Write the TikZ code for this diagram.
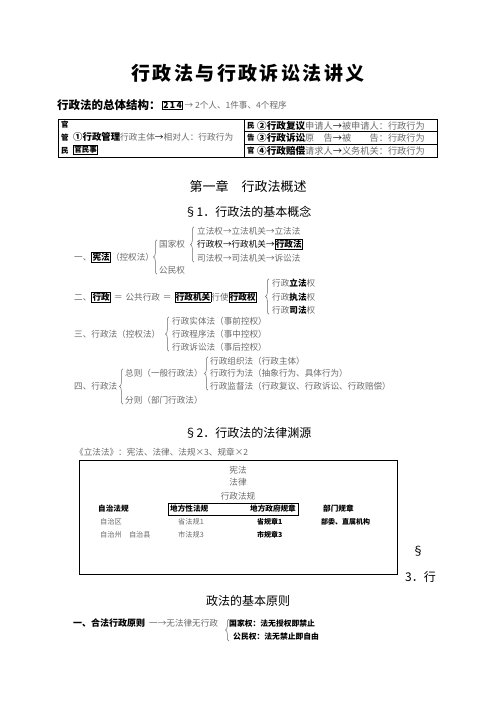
\documentclass[tikz,border=0pt]{standalone}
\usepackage{fontspec}
\setmainfont{Noto Sans CJK SC}
\usepackage{tikz}
\usetikzlibrary{decorations.pathreplacing,positioning,fit}
\definecolor{gry}{gray}{0.42}
\newcommand{\kuang}[1]{{\color{black}\setlength{\fboxsep}{0.6pt}\setlength{\fboxrule}{0.6pt}\fbox{\bfseries #1}}}
\newcommand{\zw}{\fontsize{8.6}{10}\selectfont}
\newcommand{\xzw}{\fontsize{7.6}{9}\selectfont}
\newcommand{\bt}{\fontsize{12}{13}\selectfont}

\begin{document}
\begin{tikzpicture}[x=1pt,y=-1pt,
  txt/.style={anchor=west, inner sep=0pt, text=gry, font=\zw},
  bld/.style={anchor=west, inner sep=0pt, text=black, font=\bfseries\zw},
  mid/.style={inner sep=0pt, text=gry, font=\zw},
  brc/.style={decorate, decoration={brace, amplitude=3.5pt}, draw=gry, line width=0.5pt},
  biao/.style={inner sep=0pt, text=black, font=\bt},
  biaoge/.style={anchor=west, inner sep=0pt, text=gry, font=\fontsize{9.2}{10}\selectfont},
  lie/.style={anchor=west, inner sep=0pt, text=black, font=\bfseries\fontsize{7.5}{8}\selectfont}]
\useasboundingbox (0,0) rectangle (496,702);
\fill[white] (0,0) rectangle (496,702);

% title and overall structure
\node[biao, font=\bfseries\fontsize{19}{20}\selectfont] (biaoti) at (248,73) {\addfontfeature{LetterSpace=13}行政法与行政诉讼法讲义};
\node[bld, font=\bfseries\fontsize{11.5}{12}\selectfont] (jiegou) at (57,105) {行政法的总体结构：};
\node[txt, right=1pt of jiegou] (chengxu) {\kuang{2\,1\,4}\,→ 2个人、1件事、4个程序};

% table
\draw[line width=0.8pt] (58,119) rectangle (437,157);
\draw[line width=0.6pt] (244,119) -- (244,157);
\draw[line width=0.6pt] (244,131.7) -- (437,131.7);
\draw[line width=0.6pt] (244,144.3) -- (437,144.3);
\node[lie] (lg1) at (61,125) {官};
\node[lie] (lg2) at (61,138) {管};
\node[lie] (lg3) at (61,151) {民};
\node[lie] (rg1) at (247,125.5) {民};
\node[lie] (rg2) at (247,138) {告};
\node[lie] (rg3) at (247,150.5) {官};
\node[biaoge, font=\fontsize{8.7}{10}\selectfont] (guanli) at (73,137) {{\color{black}\bfseries\fontsize{9.4}{10}\selectfont ①行政管理}行政主体{\color{black}→}相对人：行政行为};
\node[txt, font=\fontsize{7.5}{9}\selectfont] (guanmin) at (73,150) {\kuang{官民事}};
\node[biaoge] (fuyi) at (257,125.5) {{\color{black}\bfseries\fontsize{9.6}{10}\selectfont ②行政复议}申请人{\color{black}→}被申请人：行政行为};
\node[biaoge] (susong) at (257,138) {{\color{black}\bfseries\fontsize{9.6}{10}\selectfont ③行政诉讼}原　告{\color{black}→}被　　告：行政行为};
\node[biaoge] (peichang) at (257,150.5) {{\color{black}\bfseries\fontsize{9.6}{10}\selectfont ④行政赔偿}请求人{\color{black}→}义务机关：行政行为};

% chapter one
\node[biao, font=\fontsize{13}{14}\selectfont] (zhang1) at (248,186) {第一章　行政法概述};
\node[biao] (jie1) at (248,212) {§1．行政法的基本概念};

\node[txt] (xianfa) at (74,257) {一、\kuang{宪法}（控权法）};
\node[txt] (guojia) at (159,244) {国家权};
\node[txt] (gongmin) at (159,270) {公民权};
\draw[brc] ([xshift=-2pt]gongmin.south west) -- ([xshift=-2pt]guojia.north west);
\node[txt] (lifa) at (197,231) {立法权→立法机关→立法法};
\node[txt] (xingzheng) at (197,244) {{\color{black}行政权→行政机关→}\kuang{行政法}};
\node[txt] (sifa) at (197,258) {司法权→司法机关→诉讼法};
\draw[brc] ([xshift=-3pt]sifa.south west) -- ([xshift=-3pt]lifa.north west);

\node[txt] (xz) at (74,297) {二、\kuang{行政}\hspace{3pt}＝\hspace{3pt}公共行政\hspace{3pt}＝\hspace{3pt}\kuang{行政机关}行使\kuang{行政权}};
\node[txt] (xzlf) at (272,283) {行政{\color{black}\bfseries 立法}权};
\node[txt] (xzzf) at (272,297) {行政{\color{black}\bfseries 执法}权};
\node[txt] (xzsf) at (272,310) {行政{\color{black}\bfseries 司法}权};
\draw[brc] ([xshift=-3pt]xzsf.south west) -- ([xshift=-3pt]xzlf.north west);

\node[txt] (kongquan) at (74,334) {三、行政法（控权法）};
\node[txt] (shiti) at (172,321) {行政实体法（事前控权）};
\node[txt] (chengx) at (172,334) {行政程序法（事中控权）};
\node[txt] (susongfa) at (172,347) {行政诉讼法（事后控权）};
\draw[brc] ([xshift=-3pt]susongfa.south west) -- ([xshift=-3pt]shiti.north west);

\node[txt] (xzf) at (74,386) {四、行政法};
\node[txt] (zongze) at (125,373) {总则（一般行政法）};
\node[txt] (fenze) at (125,400) {分则（部门行政法）};
\draw[brc] ([xshift=-2pt]fenze.south west) -- ([xshift=-2pt]zongze.north west);
\node[txt] (zuzhi) at (210,361) {行政组织法（行政主体）};
\node[txt] (xingwei) at (210,373) {行政行为法（抽象行为、具体行为）};
\node[txt] (jiandu) at (210,386) {行政监督法（行政复议、行政诉讼、行政赔偿）};
\draw[brc] ([xshift=-2pt]jiandu.south west) -- ([xshift=-2pt]zuzhi.north west);

% sources
\node[biao] (jie2) at (248,433) {§2．行政法的法律渊源};
\node[txt] (lifafa) at (75,452) {《立法法》：宪法、法律、法规×3、规章×2};
\draw[line width=0.8pt] (79,460) rectangle (397,574);
\node[mid] (xf) at (238,470) {宪法};
\node[mid] (fl) at (238,482.5) {法律};
\node[mid] (xzfg) at (238,496) {行政法规};
\node[bld, font=\bfseries\xzw] (zzfg) at (98,509) {自治法规};
\node[bld, font=\bfseries\xzw] (dfx) at (170,509) {地方性法规};
\node[bld, font=\bfseries\xzw] (dfz) at (250,509) {地方政府规章};
\node[bld, font=\bfseries\xzw] (bmgz) at (323,509) {部门规章};
\node[draw, line width=0.7pt, inner xsep=2pt, inner ysep=2pt, fit=(dfx)(dfz)] (dfk) {};
\node[txt, font=\fontsize{7.2}{9}\selectfont] (zzq) at (100,522) {自治区};
\node[txt, font=\fontsize{7.2}{9}\selectfont] (sfg) at (178,522) {省法规1};
\node[bld, font=\bfseries\fontsize{7}{9}\selectfont] (sgz) at (257,522) {省规章1};
\node[bld, font=\bfseries\fontsize{7}{9}\selectfont] (bw) at (321,522) {部委、直属机构};
\node[txt, font=\fontsize{7.2}{9}\selectfont] (zzz) at (100,535) {自治州　自治县};
\node[txt, font=\fontsize{7.2}{9}\selectfont] (shfg) at (178,535) {市法规3};
\node[bld, font=\bfseries\fontsize{7}{9}\selectfont] (shgz) at (257,535) {市规章3};

% principles
\node[biao] (jie3a) at (418,551) {§};
\node[biao, anchor=west] (jie3b) at (405,577) {3．行};
\node[biao] (jie3c) at (248,601) {政法的基本原则};
\node[bld, font=\bfseries\fontsize{9}{10}\selectfont] (hefa) at (73,623) {一、合法行政原则};
\node[txt] (wufa) at (149,623) {一→无法律无行政};
\node[bld, font=\bfseries\fontsize{7.8}{9}\selectfont] (gjq) at (229,623) {国家权：法无授权即禁止};
\node[bld, font=\bfseries\fontsize{7.8}{9}\selectfont] (gmq) at (233,637) {公民权：法无禁止即自由};
\draw[brc] ([xshift=-4pt]gmq.south west) -- ([xshift=0pt]gjq.north west);
\end{tikzpicture}
\end{document}
